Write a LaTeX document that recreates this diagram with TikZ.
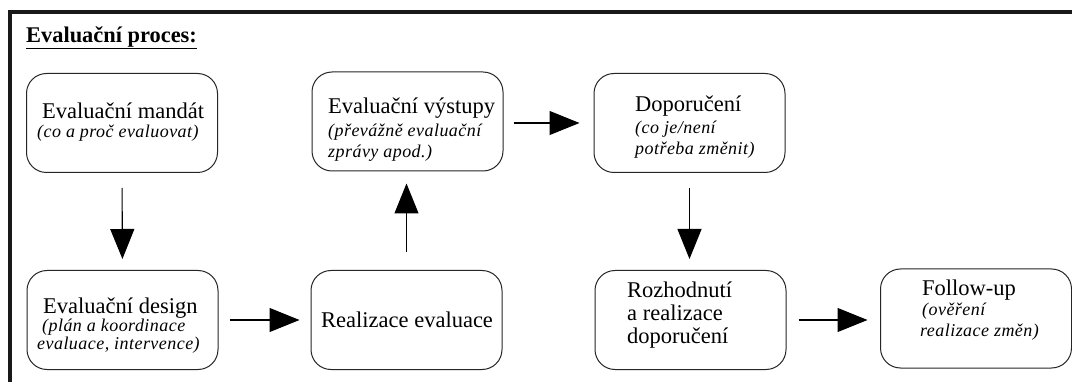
\documentclass[tikz,border=0pt]{standalone}
\usepackage{fontspec}
\setmainfont{Liberation Serif}
\newfontfamily\itsp[LetterSpace=2.5]{Liberation Serif}
\usetikzlibrary{arrows.meta}
\newcommand\rmsz{\fontsize{22.5}{27}\selectfont}
\newcommand\itsz{\itsp\itshape\fontsize{18}{22}\selectfont}
\tikzset{
  stagebox/.style={draw=black!85, line width=1pt, rounded corners=20pt, inner sep=0pt,
    minimum width=191pt, minimum height=99pt},
  txt/.style={inner sep=0pt, anchor=base west, font=\rmsz},
  itx/.style={inner sep=0pt, anchor=base west, font=\itsz},
  arr/.style={line width=1.1pt, -{Triangle[length=30pt,width=24pt]}},
  frameline/.style={line width=4pt, black!90}
}
\begin{document}
\begin{tikzpicture}[x=1pt,y=-1pt]
\useasboundingbox (0,0) rectangle (1072,382);
\clip (0,0) rectangle (1072,382);
\fill[white] (0,0) rectangle (1072,382);
% frame
\draw[frameline] (10,400) -- (10,12.5) -- (1100,12.5);
% title
\node[txt, font=\bfseries\fontsize{22.4}{27}\selectfont] (title) at (26,43) {Evaluační proces:};
\draw[line width=1.6pt] ([yshift=-5.5pt]title.base west) -- ([yshift=-5.5pt]title.base east);
% boxes
\node[stagebox] (b1) at (122,123) {};
\node[stagebox] (b2) at (407.5,121.5) {};
\node[stagebox] (b3) at (689.5,123) {};
\node[stagebox] (b4) at (122.5,320) {};
\node[stagebox] (b5) at (406.5,320) {};
\node[stagebox] (b6) at (690.5,320) {};
\node[stagebox] (b7) at (976,318.5) {};
% texts
\node[txt] (t1a) at (42,119) {Evaluační mandát};
\node[itx] (t1b) at (37,138) {(co a proč evaluovat)};
\node[txt] (t2a) at (328,114) {Evaluační výstupy};
\node[itx] (t2b) at (328,137) {(převážně evaluační};
\node[itx] (t2c) at (328,158) {zprávy apod.)};
\node[txt] (t3a) at (635,112) {Doporučení};
\node[itx] (t3b) at (635,134) {(co je/není};
\node[itx] (t3c) at (635,155) {potřeba změnit)};
\node[txt] (t4a) at (43,314) {Evaluační design};
\node[itx] (t4b) at (42,332) {(plán a koordinace};
\node[itx] (t4c) at (37,350) {evaluace, intervence)};
\node[txt] (t5a) at (321,327) {Realizace evaluace};
\node[txt] (t6a) at (627,298) {Rozhodnutí};
\node[txt] (t6b) at (627,321) {a realizace};
\node[txt] (t6c) at (627,344) {doporučení};
\node[txt] (t7a) at (922,296) {Follow-up};
\node[itx] (t7b) at (922,316) {(ověření};
\node[itx] (t7c) at (920,337) {realizace změn)};
% arrows
\draw[arr, shorten <=15pt, shorten >=11pt] (b1.south) -- (b4.north);
\draw[arr, shorten <=11pt, shorten >=11pt] (b4.east) -- (b5.west);
\draw[arr, shorten <=17.5pt, shorten >=12pt] (b5.north) -- (b5.north |- b2.south);
\draw[arr, shorten <=10pt, shorten >=14pt] ([yshift=-1.5pt]b2.east) -- ([yshift=-1.5pt]b2.east -| b3.west);
\draw[arr, shorten <=15pt, shorten >=11pt] (b3.south) -- (b3.south |- b6.north);
\draw[arr, shorten <=12pt, shorten >=12.5pt] (b6.east) -- (b6.east -| b7.west);
\end{tikzpicture}
\end{document}
